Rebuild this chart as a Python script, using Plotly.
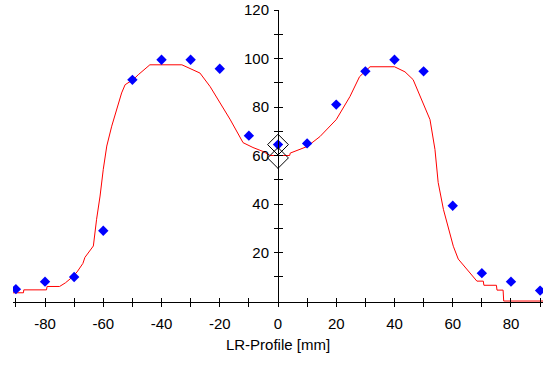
import plotly.graph_objects as go

# Measured points (blue diamonds)
meas_x = [-90, -80, -70, -60, -50, -40, -30, -20, -10, 0, 10, 20, 30, 40, 50, 60, 70, 80, 90]
meas_y = [4.9, 8.0, 9.9, 29.0, 91.2, 99.5, 99.5, 95.8, 68.2, 64.5, 65.0, 81.0, 94.7, 99.5, 94.7, 39.3, 11.5, 8.0, 4.3]

# Calculated profile (red line)
prof_x = [-91, -87.4, -87.3, -79.5, -79.3, -75, -73, -71, -69, -67, -66.3, -63.4, -62.3, -61.1,
          -60, -58.8, -57.1, -55.4, -53.7, -52.5, -49.7, -48, -46, -44, -33, -30, -26.8, -23.3,
          -20, -16.5, -12, -8.6, -5, -2.7, 4, 4.2, 10, 14.4, 20, 24.7, 28, 31.6, 40, 43.6, 46.4,
          49.3, 52.2, 53.9, 55, 56.8, 58.5, 60.2, 61.9, 64.8, 67, 68.3, 70.5, 70.7, 75, 75.2,
          77.3, 77.5, 91]
prof_y = [3.4, 3.4, 4.6, 4.6, 6.0, 6.0, 7.5, 9.5, 12.0, 15.5, 18.0, 22.7, 33.7, 43.3,
          54.3, 63.9, 72.1, 78.9, 85.8, 89.2, 91.3, 93.3, 95.5, 97.4, 97.4, 95.8, 94.0, 88.4,
          82.0, 75.0, 65.3, 63.3, 61.6, 60.0, 60.0, 61.0, 63.7, 67.8, 74.8, 84.3, 92.5, 96.6, 96.6, 94.5, 91.3,
          83.0, 74.8, 62.5, 48.9, 37.8, 29.6, 22.6, 17.3, 13.2, 10.4, 8.2, 8.2, 6.5, 6.5, 4.5,
          4.5, 0.0, 0.0]

# Reference markers (black open diamonds)
ref_x = [0, 0]
ref_y = [64.5, 59.0]

x_ticks = list(range(-90, 91, 10))
x_labels = [str(v) if v % 20 == 0 else "" for v in x_ticks]
y_ticks = list(range(10, 121, 10))
y_labels = [str(v) if v % 20 == 0 else "" for v in y_ticks]

font = dict(family="Liberation Sans, Arial, sans-serif", size=15, color="#000000")

fig = go.Figure()
# empty trace so the overlay axes (inner tick halves) are rendered
fig.add_trace(go.Scatter(x=[None], y=[None], xaxis="x2", yaxis="y2", mode="markers",
                         showlegend=False, hoverinfo="skip"))
fig.add_trace(go.Scatter(x=prof_x, y=prof_y, mode="lines",
                         line=dict(color="#ff0000", width=1), showlegend=False, hoverinfo="skip"))
fig.add_trace(go.Scatter(x=meas_x, y=meas_y, mode="markers",
                         marker=dict(symbol="diamond", size=8, color="#0000ff", line=dict(width=0)),
                         showlegend=False))
fig.add_trace(go.Scatter(x=ref_x, y=ref_y, mode="markers",
                         marker=dict(symbol="diamond-open", size=16, color="#000000", line=dict(width=1)),
                         showlegend=False))

axis_common = dict(showgrid=False, zeroline=False, tickfont=font, tickcolor="#000000",
                   ticklen=4, tickwidth=1)

fig.update_layout(
    width=543, height=369,
    margin=dict(l=13, r=0, t=10, b=67),
    paper_bgcolor="white", plot_bgcolor="white",
    font=font,
    xaxis=dict(range=[-91, 91], tickmode="array", tickvals=x_ticks, ticktext=x_labels,
               ticks="outside", showline=True, linecolor="#000000", linewidth=1,
               layer="below traces", ticklabelstandoff=4,
               title=dict(text="LR-Profile [mm]", font=font, standoff=8), **axis_common),
    xaxis2=dict(range=[-91, 91], overlaying="x", anchor="y", tickmode="array", tickvals=x_ticks,
                ticks="inside", showticklabels=False, showline=False, **axis_common),
    yaxis=dict(range=[-0.4, 120], anchor="free", position=0.5, tickmode="array",
               tickvals=y_ticks, ticktext=y_labels, ticks="outside", showline=True,
               linecolor="#000000", linewidth=1, ticklabelstandoff=2, **axis_common),
    yaxis2=dict(range=[-0.4, 120], overlaying="y", anchor="free", position=0.5, tickmode="array",
                tickvals=y_ticks, ticks="inside", showticklabels=False, showline=False,
                **axis_common),
)

fig.write_html("out.html")
